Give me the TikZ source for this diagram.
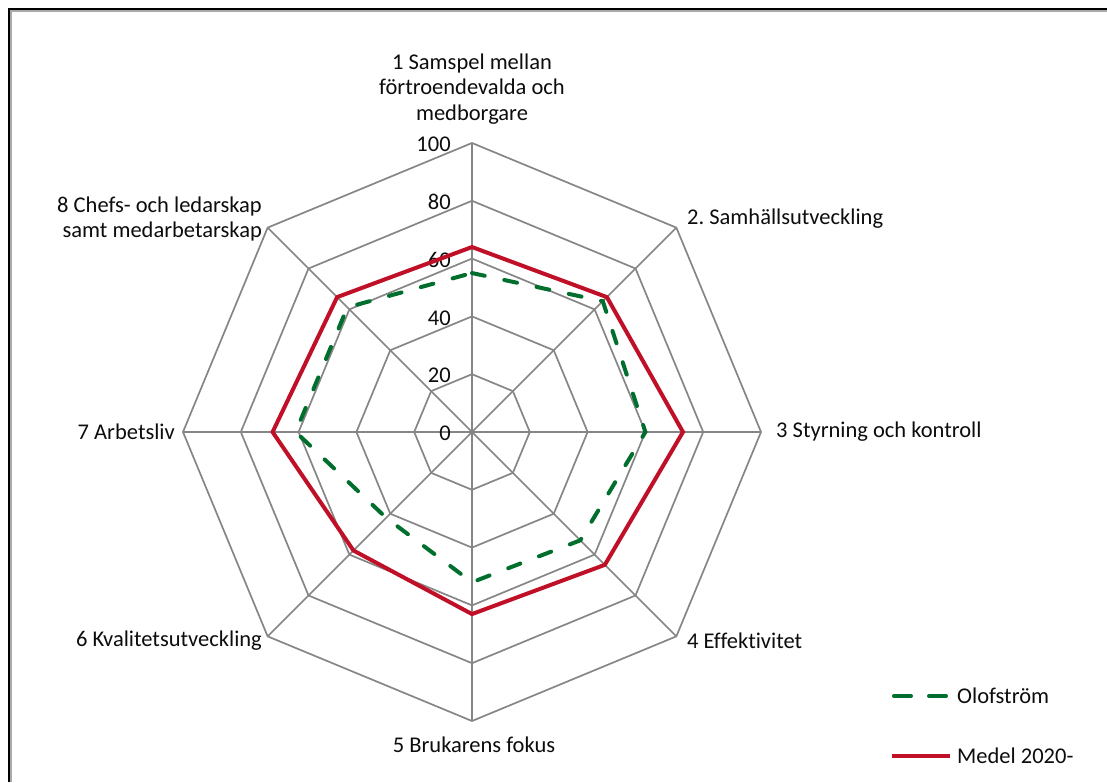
\documentclass[tikz,border=0pt]{standalone}
\usepackage{fontspec}
\setmainfont{Carlito}[RawFeature={-liga}]
\usetikzlibrary{positioning}

\definecolor{gridgray}{RGB}{134,134,134}
\definecolor{medelred}{RGB}{192,16,40}
\definecolor{olofgreen}{RGB}{0,110,45}

\begin{document}
\frenchspacing
\begin{tikzpicture}[
    x=1pt, y=1pt,
    every node/.style={font=\fontsize{22.5}{25.5}\selectfont, text=black!95, inner sep=0pt},
    gridline/.style={draw=gridgray, line width=1.7pt},
    catlabel/.style={align=center},
    ticklabel/.style={anchor=east},
    medel/.style={draw=medelred, line width=4pt, line join=miter},
    olof/.style={draw=olofgreen, line width=4pt, line cap=round, dash pattern=on 13pt off 20pt},
    olofkey/.style={olof, dash pattern=on 17pt off 18pt}
]
\useasboundingbox (0,0) rectangle (1107,782);
\fill[white] (0,0) rectangle (1107,782);

% frame
\draw[gridgray!70, line width=2pt] (11,0) -- (11,771) -- (1107,771);
\draw[black, line width=2pt] (9,0) -- (9,773) -- (1107,773);

\coordinate (c) at (472,350);

\begin{scope}[shift={(c)}, x=2.89pt, y=2.89pt]
  % rings and spokes
  \foreach \r in {20,40,...,100}
    \draw[gridline] (90:\r) \foreach \a in {1,...,7} { -- (90-45*\a:\r) } -- cycle;
  \foreach \a in {0,...,7}
    \draw[gridline] (0,0) -- (90-45*\a:100);

  % scale
  \foreach \v in {0,20,...,100}
    \node[ticklabel] (tick\v) at (-7.3,\v-0.5) {\v};

  % series
  \draw[medel] (90:64) -- (45:66) -- (0:73) -- (-45:65) -- (-90:63)
    -- (-135:58) -- (180:69) -- (135:66) -- cycle;
  \draw[olof] (90:55) -- (45:64) -- (0:60) -- (-45:53) -- (-90:52)
    -- (-135:42) -- (180:61) -- (135:61) -- cycle;
\end{scope}

% categories
\node[catlabel] (cat1) at (472,693) {1 Samspel mellan\\förtroendevalda och\\medborgare};
\node[anchor=west] (cat2) at (687,563) {2. Samhällsutveckling};
\node[anchor=west] (cat3) at (776,350) {3 Styrning och kontroll};
\node[anchor=west] (cat4) at (687,141) {4 Effektivitet};
\node (cat5) at (474,37) {5 Brukarens fokus};
\node[anchor=east] (cat6) at (262,141) {6 Kvalitetsutveckling};
\node[anchor=east] (cat7) at (175,350) {7 Arbetsliv};
\node[anchor=east, align=right] (cat8) at (262,563) {8 Chefs- och ledarskap\\samt medarbetarskap};

% legend
\node[anchor=west] (keyolof) at (957,86) {Olofström};
\node[anchor=west] (keymedel) at (957,26) {Medel 2020-};
\coordinate (keyolofstart) at (894,86);
\coordinate (keymedelstart) at (892,26);
\draw[olofkey] (keyolofstart) -- ([xshift=-7pt]keyolof.west);
\draw[medel] (keymedelstart) -- ([xshift=-7pt]keymedel.west);

\end{tikzpicture}
\end{document}
